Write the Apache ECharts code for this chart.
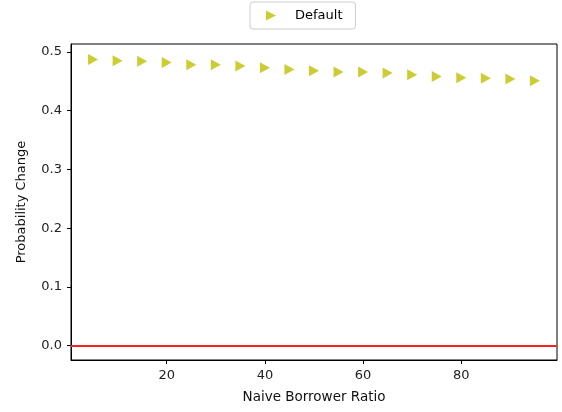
<!DOCTYPE html>
<html><head><meta charset="utf-8">
<script src="https://cdn.jsdelivr.net/npm/echarts@6/dist/echarts.min.js"></script>
<style>html,body{margin:0;padding:0;background:#fff}#c{width:562px;height:412px}</style>
</head><body><div id="c"></div>
<script>
const ratios = [5,10,15,20,25,30,35,40,45,50,55,60,65,70,75,80,85,90,95];
const defaultChange = [0.487,0.485,0.484,0.482,0.478,0.478,0.476,0.473,0.470,0.468,0.466,0.466,0.464,0.461,0.458,0.456,0.455,0.454,0.451];
const xTicks = [20,40,60,80];
const yTicks = [0,0.1,0.2,0.3,0.4,0.5];
const tri = 'path://M0,0 L10,5 L0,10 Z';
const font = 'DejaVu Sans';
const chart = echarts.init(document.getElementById('c'), null, {renderer:'canvas'});
chart.setOption({
  animation:false,
  textStyle:{fontFamily:font},
  legend:{
    top:2, left:250,
    data:[{name:'Default', icon:tri}],
    itemWidth:10, itemHeight:10, itemGap:10,
    padding:[7,13,7,16],
    borderColor:'#ccc', borderWidth:1, borderRadius:3,
    textStyle:{fontFamily:font, fontSize:13, color:'#000', padding:[0,0,0,14]}
  },
  grid:{left:71, right:5, top:44, bottom:52, show:true, borderColor:'#000', borderWidth:1, containLabel:false},
  xAxis:{
    type:'value', min:0.5, max:99.5,
    name:'Naive Borrower Ratio', nameLocation:'middle', nameGap:30,
    nameTextStyle:{fontFamily:font, fontSize:13.5, color:'#111'},
    axisLine:{show:true, onZero:false, lineStyle:{color:'#000'}},
    axisTick:{show:true, length:4, inside:false, customValues:xTicks, lineStyle:{color:'#000'}},
    axisLabel:{customValues:xTicks, fontFamily:font, fontSize:13, color:'#222', margin:9},
    splitLine:{show:false}
  },
  yAxis:{
    type:'value', min:-0.0245, max:0.5135,
    name:'Probability Change', nameLocation:'middle', nameGap:43,
    nameTextStyle:{fontFamily:font, fontSize:13, color:'#111'},
    axisLine:{show:true, onZero:false, lineStyle:{color:'#000'}},
    axisTick:{show:true, length:4, customValues:yTicks, lineStyle:{color:'#000'}},
    axisLabel:{customValues:yTicks, fontFamily:font, fontSize:13, color:'#222', margin:9,
      formatter:v=>v.toFixed(1)},
    splitLine:{show:false}
  },
  series:[{
    name:'Default', type:'scatter',
    data:ratios.map((x,i)=>[x, defaultChange[i]]),
    symbol:tri, symbolSize:[10,11],
    itemStyle:{color:'#bfbf00'},
    markLine:{
      silent:true, symbol:['none','none'], label:{show:false},
      lineStyle:{color:'#ff2020', width:2, type:'solid'},
      data:[{yAxis:0}]
    }
  }]
});
</script></body></html>
